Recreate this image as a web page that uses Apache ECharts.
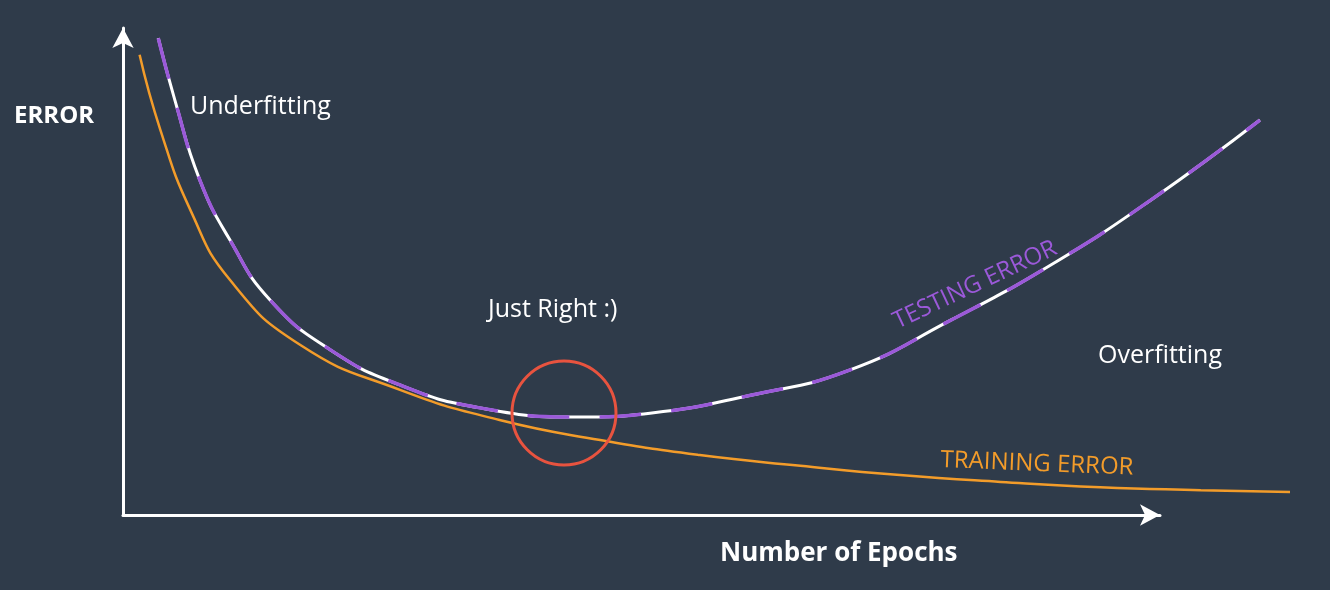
<!DOCTYPE html>
<html>
<head>
<meta charset="utf-8">
<script src="https://cdn.jsdelivr.net/npm/echarts@6/dist/echarts.min.js"></script>
<style>html,body{margin:0;background:#2f3b4a}#main{width:1330px;height:590px}</style>
</head>
<body>
<div id="main"></div>
<script>
// testing error (x = epochs, axis arrow ends at 100; y = error 0..100)
var testingData = [[3.4,97.9],[5.0,85.2],[7.4,68.8],[10.3,56.5],[14.2,44.1],[20.0,33.9],[26.7,26.7],[34.4,22.0],[44.1,20.1],[50.8,20.9],[60.5,24.6],[70.1,29.8],[79.8,40.0],[89.4,51.3],[99.1,64.7],[109.6,81.1]];
// training error
var trainingData = [[1.6,94.5],[3.6,79.1],[6.5,62.6],[10.3,48.3],[17.1,34.9],[26.7,25.7],[36.3,19.5],[46.0,15.4],[55.6,12.3],[65.3,10.1],[74.9,8.2],[84.6,6.8],[94.2,5.7],[103.9,5.1],[112.5,4.7]];

var font = '"Open Sans", "Noto Sans", sans-serif';
var axisStyle = {
    show: true,
    symbol: ['none', 'arrow'],
    symbolSize: [16, 20],
    lineStyle: { color: '#ffffff', width: 3 }
};
var hidden = { axisLine: { show: false }, axisTick: { show: false }, axisLabel: { show: false }, splitLine: { show: false } };

var option = {
    backgroundColor: '#2f3b4a',
    animation: false,
    grid: [
        { left: 123, right: 170, top: 28, bottom: 75 },
        { left: 123, right: 40, top: 28, bottom: 75 }
    ],
    xAxis: [
        Object.assign({ type: 'value', min: 0, max: 100, gridIndex: 0 }, hidden, { axisLine: axisStyle }),
        Object.assign({ type: 'value', min: 0, max: 112.5, gridIndex: 1 }, hidden)
    ],
    yAxis: [
        Object.assign({ type: 'value', min: 0, max: 100, gridIndex: 0 }, hidden, { axisLine: axisStyle }),
        Object.assign({ type: 'value', min: 0, max: 100, gridIndex: 1 }, hidden)
    ],
    series: [
        {
            name: 'TRAINING ERROR', type: 'line', smooth: 0.5, xAxisIndex: 1, yAxisIndex: 1,
            symbol: 'none', data: trainingData,
            lineStyle: { color: '#f39c2a', width: 2.5 }
        },
        {
            name: 'TESTING ERROR base', type: 'line', smooth: 0.5, xAxisIndex: 1, yAxisIndex: 1,
            symbol: 'none', data: testingData,
            lineStyle: { color: '#ffffff', width: 3 }
        },
        {
            name: 'TESTING ERROR', type: 'line', smooth: 0.5, xAxisIndex: 1, yAxisIndex: 1,
            symbol: 'none', data: testingData,
            lineStyle: { color: '#9b59d9', width: 3.5, type: [42, 30] }
        }
    ],
    graphic: [
        { type: 'text', left: 14, top: 104, style: { text: 'ERROR', fill: '#fff', font: 'bold 24px ' + font } },
        { type: 'text', left: 720, top: 541, style: { text: 'Number of Epochs', fill: '#fff', font: 'bold 26px ' + font } },
        { type: 'text', left: 190, top: 94, style: { text: 'Underfitting', fill: '#fff', font: '25px ' + font } },
        { type: 'text', left: 488, top: 297, style: { text: 'Just Right :)', fill: '#fff', font: '25px ' + font } },
        { type: 'text', left: 1098, top: 343, style: { text: 'Overfitting', fill: '#fff', font: '25px ' + font } },
        { type: 'text', x: 975, y: 285, rotation: 0.44, style: { text: 'TESTING ERROR', fill: '#9b59d9', font: '24px ' + font, letterSpacing: 4, align: 'center', verticalAlign: 'middle' } },
        { type: 'text', x: 1037, y: 464, rotation: -0.04, style: { text: 'TRAINING ERROR', fill: '#f39c2a', font: '24px ' + font, letterSpacing: 4, align: 'center', verticalAlign: 'middle' } },
        { type: 'circle', shape: { cx: 564, cy: 413, r: 52 }, style: { fill: 'none', stroke: '#e8533f', lineWidth: 3 }, z: 100 }
    ]
};
var chart = echarts.init(document.getElementById('main'));
chart.setOption(option);
</script>
</body>
</html>
